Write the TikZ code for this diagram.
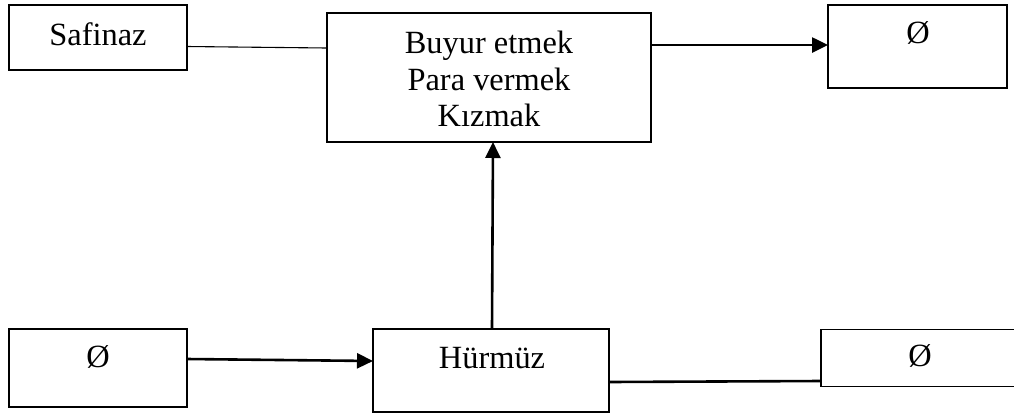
\documentclass[tikz,border=0pt]{standalone}
\usepackage{fontspec}
\setmainfont{Liberation Serif}
\usetikzlibrary{arrows.meta}
\begin{document}
\begin{tikzpicture}[x=0.5pt,y=-0.5pt,
  box/.style={draw,line width=0.7pt,inner sep=0pt,outer sep=0pt},
  lbl/.style={font=\fontsize{16.2}{18.3}\selectfont,inner sep=0pt,align=center},
  thin/.style={line width=0.55pt},
  thick link/.style={line width=1.3pt},
  arr/.style={line width=1.3pt,-{Triangle[length=8pt,width=7.5pt]}}]
\useasboundingbox (0,0) rectangle (1014,414);
% boxes
\node[box,minimum width=178*0.5pt,minimum height=65*0.5pt] (sa) at (98,37.5) {};
\node[box,minimum width=324*0.5pt,minimum height=129*0.5pt] (ct) at (489,77.5) {};
\node[box,minimum width=179*0.5pt,minimum height=83*0.5pt] (tr) at (917.5,46.5) {};
\node[box,minimum width=178*0.5pt,minimum height=78*0.5pt] (bl) at (98,368) {};
\node[box,minimum width=236*0.5pt,minimum height=83*0.5pt] (hm) at (491,370.5) {};
\node[box,minimum width=210*0.5pt,minimum height=57*0.5pt] (br) at (926,358) {};
% labels
\node[lbl] (sa-t) at (98,34) {Safinaz};
\node[lbl] (ct-t) at (489,79) {Buyur etmek\\Para vermek\\Kızmak};
\node[lbl] (tr-t) at (918,33) {Ø};
\node[lbl] (bl-t) at (98,357) {Ø};
\node[lbl] (hm-t) at (492,358) {Hürmüz};
\node[lbl] (br-t) at (920,356) {Ø};
% connectors
\draw[thin] ([yshift=-9*0.5pt]sa.east) -- ([yshift=29.5*0.5pt]ct.west);
\draw[arr] ([yshift=32.5*0.5pt]ct.east) -- ([yshift=1.5*0.5pt]tr.west);
\draw[arr] ([yshift=9*0.5pt]bl.west -| bl.east) -- ([yshift=9.5*0.5pt]hm.west);
\draw[arr] ([xshift=1*0.5pt]hm.north) -- ([xshift=4*0.5pt]ct.south);
\draw[thick link] ([yshift=-11.5*0.5pt]hm.east) -- ([yshift=-23*0.5pt]br.west);
\end{tikzpicture}
\end{document}
